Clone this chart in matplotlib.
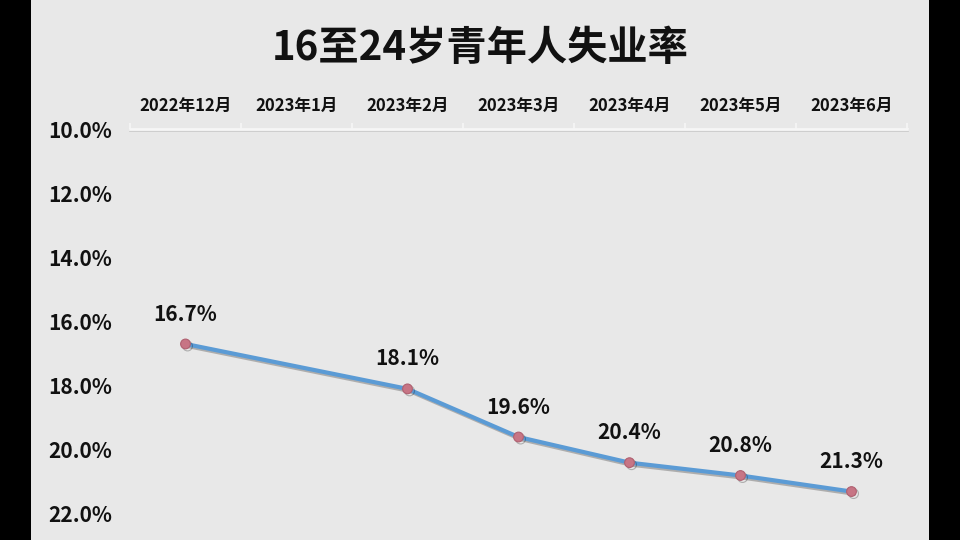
import numpy as np
import matplotlib
matplotlib.use("Agg")
import matplotlib.pyplot as plt
import matplotlib.patheffects as pe
from matplotlib.patches import Rectangle

plt.rcParams["font.family"] = ["Noto Sans CJK SC", "DejaVu Sans"]
plt.rcParams["font.weight"] = "bold"

months = ["2022年12月", "2023年1月", "2023年2月", "2023年3月",
          "2023年4月", "2023年5月", "2023年6月"]
rates = np.array([16.7, np.nan, 18.1, 19.6, 20.4, 20.8, 21.3])
yticks = [10, 12, 14, 16, 18, 20, 22]

fig = plt.figure(figsize=(9.6, 5.4), dpi=100, facecolor="black")
# gray panel between the black side bars
fig.patches.append(Rectangle((31 / 960, 0), 898 / 960, 1, transform=fig.transFigure,
                             facecolor="#e8e8e8", edgecolor="none", zorder=-10))

ax = fig.add_axes([130 / 960, 26 / 540, 777 / 960, 385 / 540])
ax.set_facecolor("none")

x = np.arange(len(months))
ok = ~np.isnan(rates)
ax.plot(x[ok], rates[ok], color="#5b9bd5", lw=3, marker="o", ms=7,
        mfc="#c77585", mec="#b06070", mew=0.8, solid_joinstyle="round",
        path_effects=[pe.SimpleLineShadow(offset=(1.5, -1.5), alpha=0.25), pe.Normal()])

for xi, v in zip(x[ok], rates[ok]):
    ax.annotate(f"{v:.1f}%", (xi, v), xytext=(0, 14), textcoords="offset points",
                ha="center", va="bottom", fontsize=15, fontweight="bold", color="#111111")

ax.set_xlim(-0.5, len(months) - 0.5)
ax.set_ylim(22, 10)
ax.set_yticks(yticks)
ax.set_yticklabels([f"{t:.1f}%" for t in yticks])
ax.set_xticks(x)
ax.set_xticklabels(months)
ax.xaxis.tick_top()
ax.set_xticks(np.arange(-0.5, len(months)), minor=True)

ax.tick_params(axis="x", which="major", length=0, pad=10, labelsize=12, labelcolor="#111111")
ax.tick_params(axis="x", which="minor", length=4, width=1.2, color="#f6f6f6", direction="out")
ax.tick_params(axis="y", length=0, pad=13, labelsize=15, labelcolor="#111111")
for lab in ax.get_xticklabels() + ax.get_yticklabels():
    lab.set_fontweight("bold")

for s in ["left", "right", "bottom"]:
    ax.spines[s].set_visible(False)
ax.spines["top"].set_color("#f6f6f6")
ax.spines["top"].set_linewidth(2)
ax.spines["top"].set_path_effects([pe.SimpleLineShadow(offset=(0, -1), alpha=0.12), pe.Normal()])

fig.text(0.5, 0.91, "16至24岁青年人失业率", ha="center", va="center",
         fontsize=29, fontweight="bold", color="#111111")

fig.savefig("out.png", dpi=100, facecolor=fig.get_facecolor())
